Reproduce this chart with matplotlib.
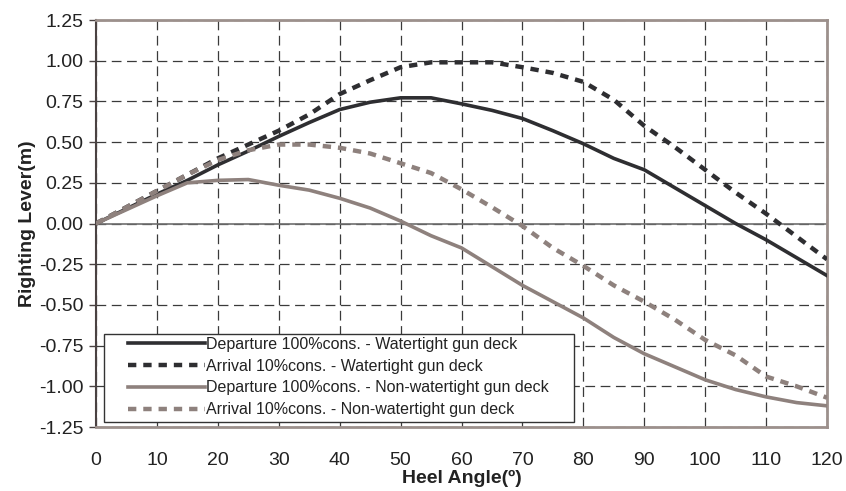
import matplotlib
matplotlib.use("Agg")
import matplotlib.pyplot as plt
from matplotlib.patches import Rectangle

plt.rcParams['font.family'] = ['Liberation Sans', 'DejaVu Sans']
plt.rcParams['lines.scale_dashes'] = False

angles = [0, 5, 10, 15, 20, 25, 30, 35, 40, 45, 50, 55, 60, 65, 70, 75, 80, 85, 90, 95, 100, 105, 110, 115, 120]

dep_wt = [0.0, 0.09, 0.18, 0.265, 0.36, 0.445, 0.535, 0.62, 0.70, 0.745, 0.772, 0.772, 0.735, 0.695, 0.645,
          0.57, 0.49, 0.40, 0.33, 0.22, 0.11, 0.0, -0.10, -0.21, -0.32]
arr_wt = [0.0, 0.10, 0.20, 0.30, 0.40, 0.485, 0.57, 0.67, 0.795, 0.88, 0.96, 0.99, 0.99, 0.99, 0.96,
          0.925, 0.87, 0.76, 0.60, 0.47, 0.33, 0.19, 0.06, -0.08, -0.22]
dep_nwt = [0.0, 0.085, 0.17, 0.25, 0.265, 0.27, 0.235, 0.205, 0.155, 0.095, 0.015, -0.075, -0.15, -0.265, -0.38,
           -0.48, -0.58, -0.70, -0.80, -0.88, -0.96, -1.02, -1.065, -1.10, -1.12]
arr_nwt = [0.0, 0.10, 0.20, 0.30, 0.39, 0.45, 0.485, 0.485, 0.465, 0.43, 0.37, 0.31, 0.21, 0.10, -0.015,
           -0.15, -0.26, -0.38, -0.48, -0.59, -0.715, -0.81, -0.94, -1.0, -1.07]

labels = ["Departure 100%cons. - Watertight gun deck",
          "Arrival 10%cons. - Watertight gun deck",
          "Departure 100%cons. - Non-watertight gun deck",
          "Arrival 10%cons. - Non-watertight gun deck"]

xticks = [0, 10, 20, 30, 40, 50, 60, 70, 80, 90, 100, 110, 120]
yticks = [1.25, 1.00, 0.75, 0.50, 0.25, 0.00, -0.25, -0.50, -0.75, -1.00, -1.25]

dark = '#2e2e31'
gray = '#8e817d'

W, H = 846, 491
L, R, T, B = 96, 827, 20, 427
fig = plt.figure(figsize=(W / 100, H / 100), dpi=100)
ax = fig.add_axes([L / W, 1 - B / H, (R - L) / W, (B - T) / H])

ax.set_xlim(0, 120)
ax.set_ylim(-1.25, 1.25)
ax.set_xticks(xticks)
ax.set_yticks(yticks)
ax.set_yticklabels([f"{v:.2f}" for v in yticks])

ax.grid(True, color='#3a3a3a', linewidth=0.9, linestyle=(0, (7, 4)))
ax.set_axisbelow(True)
ax.axhline(0, color='#6e6e6e', linewidth=1.2, zorder=1.5)

dash = (0, (6, 5))
ax.plot(angles, dep_wt, color=dark, lw=2.6, label=labels[0], zorder=3)
ax.plot(angles, arr_wt, color=dark, lw=3.2, linestyle=dash, dash_capstyle='butt', label=labels[1], zorder=3)
ax.plot(angles, dep_nwt, color=gray, lw=2.6, label=labels[2], zorder=3)
ax.plot(angles, arr_nwt, color=gray, lw=3.2, linestyle=dash, dash_capstyle='butt', label=labels[3], zorder=3)

for s in ['top', 'right', 'bottom']:
    ax.spines[s].set_color('#9c908c')
    ax.spines[s].set_linewidth(2)
ax.spines['left'].set_color('#4a4242')
ax.spines['left'].set_linewidth(1.5)

ax.tick_params(axis='y', length=5, width=1, color='#4a4242', labelsize=14, labelcolor='#222222', pad=4)
ax.tick_params(axis='x', length=0, labelsize=14, labelcolor='#222222', pad=18)

ax.set_xlabel("Heel Angle(º)", fontsize=14, fontweight='bold', color='#222222', labelpad=1)
ax.set_ylabel("Righting Lever(m)", fontsize=14, fontweight='bold', color='#222222', labelpad=2)


def ax_x(px):
    return (px - L) / (R - L)


def ax_y(py):
    return (B - py) / (B - T)


box = Rectangle((ax_x(104), ax_y(422)), ax_x(574) - ax_x(104), ax_y(334) - ax_y(422),
                transform=ax.transAxes, facecolor='white', edgecolor='#333333', lw=1.0, zorder=4)
ax.add_patch(box)

leg = ax.legend(loc='upper left', bbox_to_anchor=(ax_x(128), ax_y(337)),
                fontsize=11.5, frameon=False, handlelength=4.8, handletextpad=0.1,
                labelspacing=0.42, borderpad=0, borderaxespad=0)
leg.set_zorder(5)
for t in leg.get_texts():
    t.set_color('#222222')

fig.savefig("out.png", dpi=100)
